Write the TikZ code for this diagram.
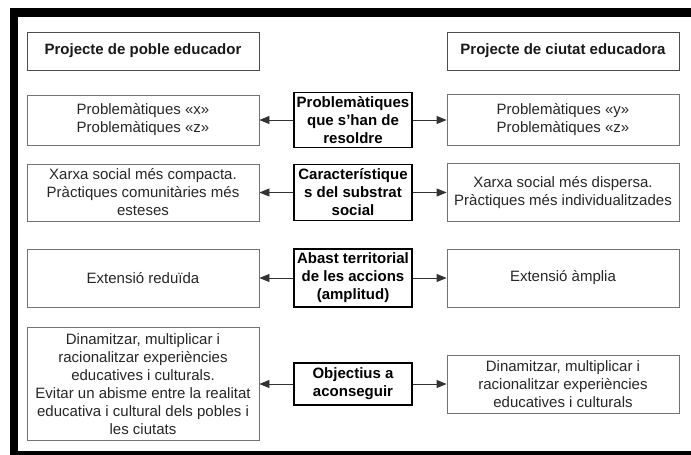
\documentclass[tikz,border=0pt]{standalone}
\usepackage{fontspec}
\setmainfont{Liberation Sans}
\usetikzlibrary{arrows.meta}

\begin{document}
\begin{tikzpicture}[x=1pt, y=-1pt, >={Triangle[length=10pt,width=8pt]},
    every node/.style={font=\fontsize{15}{18}\selectfont, align=center, inner sep=2pt},
    sidebox/.style={draw=black!55, line width=0.8pt, text=black!85, minimum width=232pt},
    midbox/.style={draw=black, line width=1.4pt, font=\fontsize{15}{18}\selectfont\bfseries, minimum width=118pt},
    headbox/.style={draw=black!70, line width=1pt, text=black!90, font=\fontsize{15}{18}\selectfont\bfseries,
        minimum width=232pt, minimum height=38pt}]
    \useasboundingbox (0,0) rectangle (691,455);
    % Frame (open on the right)
    \fill (10,8) rectangle (691,17);
    \fill (10,8) rectangle (18,455);
    \fill (10,451) rectangle (691,455);
    % Headers
    \node[headbox] (hpoble) at (143,51) {Projecte de poble educador};
    \node[headbox] (hciutat) at (563,51) {Projecte de ciutat educadora};
    % Problematiques
    \node[midbox, minimum height=55pt] (mprob) at (353,120) {Problemàtiques\\que s’han de\\resoldre};
    \node[sidebox, minimum height=50pt] (lprob) at (143,120) {Problemàtiques «x»\\Problemàtiques «z»};
    \node[sidebox, minimum height=51pt] (rprob) at (563,120) {Problemàtiques «y»\\Problemàtiques «z»};
    \draw[->, black!80, line width=0.8pt] (mprob) -- (lprob);
    \draw[->, black!80, line width=0.8pt] (mprob) -- (rprob);
    % Substrat social
    \node[midbox, minimum height=56pt] (msubs) at (353,192.5) {Característique\\s del substrat\\social};
    \node[sidebox, minimum height=57pt] (lsubs) at (143,192.5) {Xarxa social més compacta.\\Pràctiques comunitàries més\\esteses};
    \node[sidebox, minimum height=58pt] (rsubs) at (563,192.5) {Xarxa social més dispersa.\\Pràctiques més individualitzades};
    \draw[->, black!80, line width=0.8pt] (msubs) -- (lsubs);
    \draw[->, black!80, line width=0.8pt] (msubs) -- (rsubs);
    % Abast territorial
    \node[midbox, minimum height=58pt] (mabast) at (353,278) {Abast territorial\\de les accions\\(amplitud)};
    \node[sidebox, minimum height=58pt] (labast) at (143,278) {Extensió reduïda};
    \node[sidebox, minimum height=58pt] (rabast) at (563,278) {Extensió àmplia};
    \draw[->, black!80, line width=0.8pt] (mabast) -- (labast);
    \draw[->, black!80, line width=0.8pt] (mabast) -- (rabast);
    % Objectius
    \node[midbox, minimum height=42pt] (mobj) at (353,384) {Objectius a\\aconseguir};
    \node[sidebox, minimum height=113pt] (lobj) at (143,384) {Dinamitzar, multiplicar i\\racionalitzar experiències\\educatives i culturals.\\Evitar un abisme entre la realitat\\educativa i cultural dels pobles i\\les ciutats};
    \node[sidebox, minimum height=58pt] (robj) at (563,384) {Dinamitzar, multiplicar i\\racionalitzar experiències\\educatives i culturals};
    \draw[->, black!80, line width=0.8pt] (mobj) -- (lobj);
    \draw[->, black!80, line width=0.8pt] (mobj) -- (robj);
\end{tikzpicture}
\end{document}
